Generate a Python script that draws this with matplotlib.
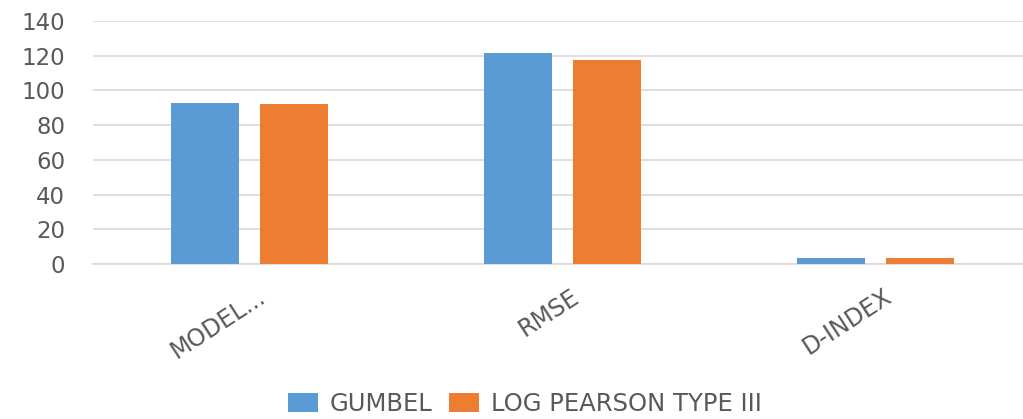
import numpy as np
import matplotlib.pyplot as plt
from matplotlib.transforms import ScaledTranslation

plt.rcParams['font.family'] = ['DejaVu Sans']

# Metric values for each distribution
metrics = ['MODEL...', 'RMSE', 'D-INDEX']
gumbel = [92.9, 121.4, 3.6]
log_pearson = [92.0, 117.5, 3.3]
y_ticks = [0, 20, 40, 60, 80, 100, 120, 140]

BLUE = '#5B9BD5'
ORANGE = '#ED7D31'
GRID = '#D9D9D9'
TEXT = '#595959'

fig = plt.figure(figsize=(10.23, 4.19), dpi=100)
ax = fig.add_axes([93 / 1023, 1 - 264 / 419, 1 - 93 / 1023, (264 - 21) / 419])

x = np.arange(len(metrics))
width = 0.22
offset = 0.142
ax.bar(x - offset, gumbel, width, color=BLUE, label='GUMBEL', zorder=3)
ax.bar(x + offset, log_pearson, width, color=ORANGE, label='LOG PEARSON TYPE III', zorder=3)

ax.set_xlim(-0.5, -0.5 + (1023 - 93) / 313)
ax.set_ylim(0, 140)
ax.set_yticks(y_ticks)
ax.set_yticklabels([str(v) for v in y_ticks], fontsize=16.5, color=TEXT)
ax.yaxis.grid(True, color=GRID, linewidth=1.2, zorder=0)
ax.tick_params(axis='y', length=0, pad=20)
ax.tick_params(axis='x', length=0, pad=22)

ax.set_xticks(x)
ax.set_xticklabels(metrics, fontsize=17, color=TEXT, rotation=33,
                   ha='right', va='center', rotation_mode='anchor')
# nudge the slanted labels a little to the right of the tick
shift = ScaledTranslation(14 / 100, 0, fig.dpi_scale_trans)
for lbl in ax.get_xticklabels():
    lbl.set_transform(lbl.get_transform() + shift)

for side in ['top', 'right', 'left']:
    ax.spines[side].set_visible(False)
ax.spines['bottom'].set_color(GRID)
ax.spines['bottom'].set_linewidth(1.2)

fig.legend(loc='center', bbox_to_anchor=(525 / 1023, 1 - 404 / 419), ncol=2,
           frameon=False, fontsize=17.5, labelcolor=TEXT, handlelength=1.2,
           handleheight=0.8, handletextpad=0.5, columnspacing=0.7)

fig.savefig('out.png', dpi=100, facecolor='white')
